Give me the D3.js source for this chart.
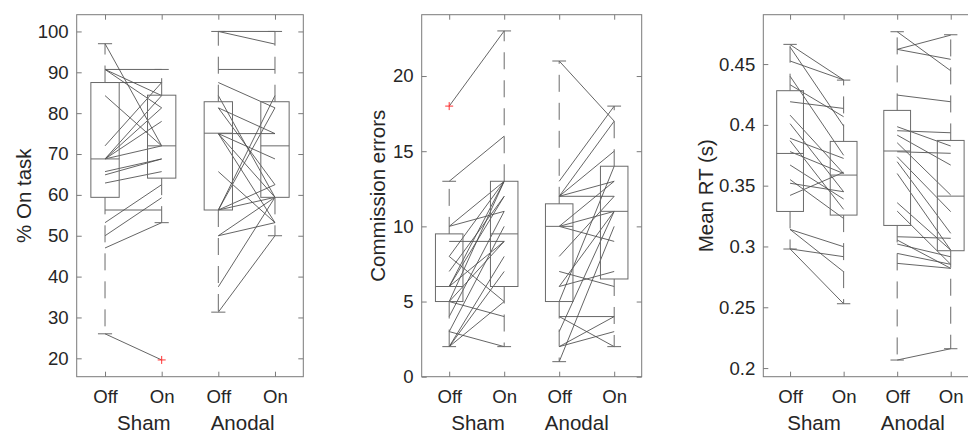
<!DOCTYPE html>
<html><head><meta charset="utf-8">
<script src="https://cdn.jsdelivr.net/npm/d3@7"></script>
<style>body{margin:0;background:#fff}svg{display:block}</style>
</head><body>
<svg id="chart" width="968" height="434"></svg>
<script>
// ---------- categories ----------
const conditions = ["Off", "On", "Off", "On"];
const groups = ["Sham", "Anodal"];

// ---------- Panel 1: % On task ----------
const onTaskShamOff   = [97, 90.7, 90.7, 90.7, 87.5, 84.3, 72, 68.8, 68.8, 68.8, 68.8, 65.7, 64.9, 62.9, 56.3, 53.2, 50, 47, 26];
const onTaskShamOn    = [72, 90.7, 84.3, 81.3, 87.5, 72, 87.5, 84.3, 81.3, 78, 72, 68.8, 68.8, 65.7, 56.3, 62.5, 59.3, 53.2, 19.6];
const onTaskAnodalOff = [100, 100, 90.7, 87.5, 84.3, 81.3, 81.3, 75, 75, 75, 75, 65.7, 56.3, 56.3, 56.3, 56.3, 50, 50, 37.5, 31.3];
const onTaskAnodalOn  = [100, 96.9, 90.7, 81.3, 59.4, 75, 62.5, 75, 59.4, 53.2, 68.8, 53.2, 84.3, 81.3, 62.5, 59.4, 59.4, 53.2, 59.4, 50];
const onTaskQ1        = [59.4, 64.1, 56.3, 59.4];
const onTaskMedian    = [68.8, 72, 75.1, 72];
const onTaskQ3        = [87.5, 84.4, 82.8, 82.8];
const onTaskWhiskLow  = [26, 53.2, 31.3, 50];
const onTaskWhiskHigh = [97, 90.7, 100, 100];
const onTaskOutliers  = [[], [19.6], [], []];
const onTaskTicks     = [20, 30, 40, 50, 60, 70, 80, 90, 100];

// ---------- Panel 2: Commission errors ----------
const ceShamOff   = [18, 13, 10, 10, 9, 8, 8, 7, 6, 6, 6, 5, 5, 5, 4, 3, 3, 2, 2, 2];
const ceShamOn    = [23, 16, 13, 11, 9, 13, 5, 12, 13, 12, 9, 13, 9, 4, 11, 10, 2, 8, 7, 5];
const ceAnodalOff = [21, 13, 12, 12, 12, 12, 10, 10, 10, 8, 7, 6, 6, 5, 4, 4, 3, 2, 2, 1];
const ceAnodalOn  = [17, 18, 17, 15, 12, 13, 13, 11, 9, 12, 6, 7, 11, 14, 4, 2, 11, 4, 3, 10];
const ceQ1        = [5, 6, 5, 6.5];
const ceMedian    = [6, 9.5, 10, 11];
const ceQ3        = [9.5, 13, 11.5, 14];
const ceWhiskLow  = [2, 2, 1, 2];
const ceWhiskHigh = [13, 23, 21, 18];
const ceOutliers  = [[18], [], [], []];
const ceTicks     = [0, 5, 10, 15, 20];

// ---------- Panel 3: Mean RT (s) ----------
const rtShamOff   = [0.466, 0.464, 0.4525, 0.440, 0.433, 0.419, 0.408, 0.401, 0.389, 0.387, 0.378, 0.367, 0.355, 0.352, 0.342, 0.314, 0.314, 0.298, 0.298];
const rtShamOn    = [0.437, 0.399, 0.437, 0.375, 0.4067, 0.4135, 0.360, 0.345, 0.3724, 0.3305, 0.360, 0.339, 0.323, 0.345, 0.361, 0.2998, 0.2792, 0.2916, 0.2529];
const rtAnodalOff = [0.4766, 0.4621, 0.4621, 0.4245, 0.3985, 0.3952, 0.3916, 0.3853, 0.3779, 0.3738, 0.3697, 0.360, 0.336, 0.3291, 0.308, 0.3053, 0.302, 0.2943, 0.2861, 0.2066];
const rtAnodalOn  = [0.4445, 0.4738, 0.4539, 0.419, 0.3826, 0.3935, 0.3669, 0.3423, 0.3766, 0.3286, 0.3108, 0.297, 0.297, 0.2853, 0.3067, 0.282, 0.2915, 0.2853, 0.282, 0.2159];
const rtQ1        = [0.3288, 0.3258, 0.3173, 0.2965];
const rtMedian    = [0.3765, 0.3587, 0.3785, 0.3414];
const rtQ3        = [0.4281, 0.3864, 0.4119, 0.3872];
const rtWhiskLow  = [0.2979, 0.2529, 0.2066, 0.2159];
const rtWhiskHigh = [0.4662, 0.4368, 0.4766, 0.4741];
const rtOutliers  = [[], [], [], []];
const rtTicks     = [0.2, 0.25, 0.3, 0.35, 0.4, 0.45];

// ---------- panel table built from the arrays ----------
const panels = [
  { label: "% On task", ticks: onTaskTicks, fmt: d3.format("d"), domain: [15.5, 104.1],
    pairs: [[onTaskShamOff, onTaskShamOn], [onTaskAnodalOff, onTaskAnodalOn]],
    q1: onTaskQ1, med: onTaskMedian, q3: onTaskQ3, lo: onTaskWhiskLow, hi: onTaskWhiskHigh, out: onTaskOutliers,
    left: 76.7, right: 303.3, ylabX: 23.3, xlabC: 195.8 },
  { label: "Commission errors", ticks: ceTicks, fmt: d3.format("d"), domain: [0, 24.08],
    pairs: [[ceShamOff, ceShamOn], [ceAnodalOff, ceAnodalOn]],
    q1: ceQ1, med: ceMedian, q3: ceQ3, lo: ceWhiskLow, hi: ceWhiskHigh, out: ceOutliers,
    left: 421.7, right: 641.7, ylabX: 377, xlabC: 530 },
  { label: "Mean RT (s)", ticks: rtTicks, fmt: d => String(+d.toFixed(2)), domain: [0.1929, 0.4906],
    pairs: [[rtShamOff, rtShamOn], [rtAnodalOff, rtAnodalOn]],
    q1: rtQ1, med: rtMedian, q3: rtQ3, lo: rtWhiskLow, hi: rtWhiskHigh, out: rtOutliers,
    left: 763.3, right: 977.5, ylabX: 705, xlabC: 866 }
];

const svg = d3.select("#chart");
const TOP = 14.7, BOTTOM = 376.7;
const FONT = "'Liberation Sans', Arial, Helvetica, sans-serif";
const TXT = "#262626", AXC = "#7a7a7a", BOXC = "#6a6a6a", LINEC = "#4a4a4a";

panels.forEach(p => {
  const x = d3.scaleLinear().domain([0.5, 4.5]).range([p.left, p.right]);
  const y = d3.scaleLinear().domain(p.domain).range([BOTTOM, TOP]);
  const g = svg.append("g");

  // paired subject lines
  p.pairs.forEach((pr, gi) => {
    const c0 = gi * 2 + 1;
    g.append("g").selectAll("line").data(pr[0].map((v, i) => [v, pr[1][i]])).join("line")
      .attr("x1", x(c0)).attr("x2", x(c0 + 1))
      .attr("y1", d => y(d[0])).attr("y2", d => y(d[1]))
      .attr("stroke", LINEC).attr("stroke-width", 1).attr("stroke-opacity", 0.85);
  });

  // box plots
  const bw = x(1.25) - x(1);      // half box width (0.25 units)
  const cw = x(1.125) - x(1);     // half cap width
  const bg = g.append("g").attr("stroke", BOXC).attr("fill", "none").attr("stroke-width", 1);
  [0, 1, 2, 3].forEach(k => {
    const cx = x(k + 1);
    bg.append("line").attr("x1", cx).attr("x2", cx).attr("y1", y(p.q3[k])).attr("y2", y(p.hi[k])).attr("stroke-dasharray", "17,11");
    bg.append("line").attr("x1", cx).attr("x2", cx).attr("y1", y(p.q1[k])).attr("y2", y(p.lo[k])).attr("stroke-dasharray", "17,11");
    bg.append("line").attr("x1", cx - cw).attr("x2", cx + cw).attr("y1", y(p.hi[k])).attr("y2", y(p.hi[k]));
    bg.append("line").attr("x1", cx - cw).attr("x2", cx + cw).attr("y1", y(p.lo[k])).attr("y2", y(p.lo[k]));
    bg.append("rect").attr("x", cx - bw).attr("width", 2 * bw)
      .attr("y", y(p.q3[k])).attr("height", y(p.q1[k]) - y(p.q3[k]));
    bg.append("line").attr("x1", cx - bw).attr("x2", cx + bw).attr("y1", y(p.med[k])).attr("y2", y(p.med[k]));
    p.out[k].forEach(v => {
      g.append("path").attr("d", `M${cx - 4},${y(v)}H${cx + 4}M${cx},${y(v) - 4}V${y(v) + 4}`)
        .attr("stroke", "#ff3333").attr("stroke-width", 1);
    });
  });

  // axes (inside ticks, box on)
  const style = sel => {
    sel.attr("font-family", FONT).attr("font-size", 18.6);
    sel.selectAll(".domain").remove();
    sel.selectAll(".tick line").attr("stroke", AXC);
    sel.selectAll(".tick text").attr("fill", TXT);
  };
  g.append("g").attr("transform", `translate(${p.left},0)`)
    .call(d3.axisLeft(y).tickValues(p.ticks).tickFormat(p.fmt).tickSize(-5).tickPadding(8)).call(style);
  g.append("g").attr("transform", `translate(${p.right},0)`)
    .call(d3.axisRight(y).tickValues(p.ticks).tickFormat("").tickSize(-5)).call(style);
  g.append("g").attr("transform", `translate(0,${BOTTOM})`)
    .call(d3.axisBottom(x).tickValues([1, 2, 3, 4]).tickFormat(i => conditions[i - 1]).tickSize(-5).tickPadding(13)).call(style);
  g.append("g").attr("transform", `translate(0,${TOP})`)
    .call(d3.axisTop(x).tickValues([1, 2, 3, 4]).tickFormat("").tickSize(-5)).call(style);
  g.append("rect").attr("x", p.left).attr("y", TOP).attr("width", p.right - p.left).attr("height", BOTTOM - TOP)
    .attr("fill", "none").attr("stroke", AXC).attr("stroke-width", 1);

  // y label
  g.append("text").attr("transform", `translate(${p.ylabX},${(TOP + BOTTOM) / 2}) rotate(-90)`)
    .attr("text-anchor", "middle").attr("dominant-baseline", "central")
    .attr("font-family", FONT).attr("font-size", 20.5).attr("fill", TXT).text(p.label);

  // group labels
  const t = g.append("text").attr("x", p.xlabC).attr("y", 430).attr("text-anchor", "middle")
    .attr("font-family", FONT).attr("font-size", 20.5).attr("fill", TXT);
  t.append("tspan").text(groups[0]);
  t.append("tspan").attr("dx", 40).text(groups[1]);
});
</script>
</body></html>
